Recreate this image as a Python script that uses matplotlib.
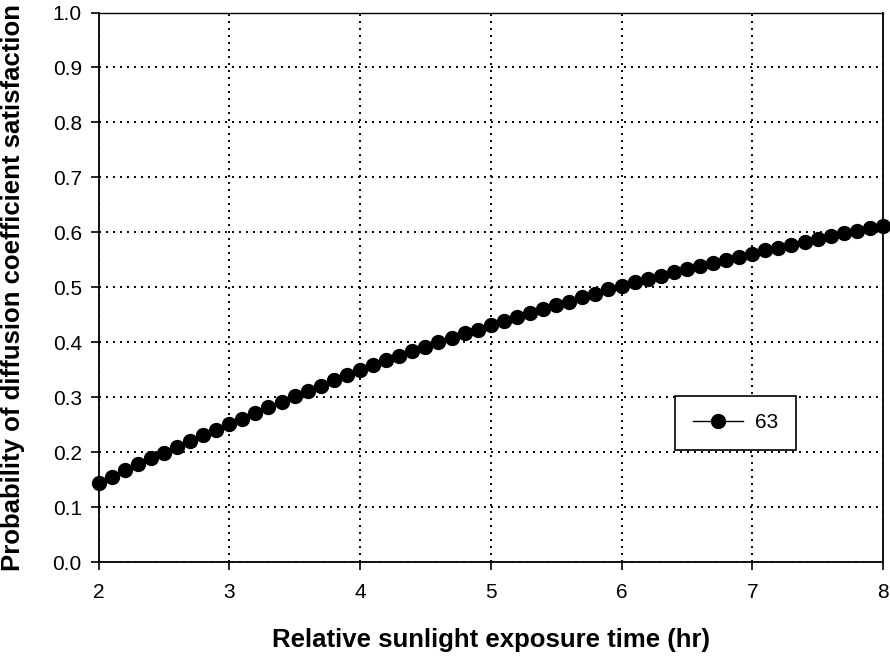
import matplotlib
matplotlib.use("Agg")
import matplotlib.pyplot as plt
import numpy as np

plt.rcParams['font.family'] = ['Liberation Sans', 'DejaVu Sans']

exposure_hr = [round(2.0 + 0.1 * i, 1) for i in range(61)]
probability = [
    0.144, 0.155, 0.167, 0.178, 0.189, 0.199, 0.210, 0.221, 0.231, 0.241,
    0.252, 0.261, 0.271, 0.282, 0.292, 0.302, 0.311, 0.321, 0.331, 0.340,
    0.349, 0.358, 0.367, 0.375, 0.384, 0.391, 0.400, 0.408, 0.416, 0.423,
    0.431, 0.438, 0.446, 0.453, 0.460, 0.467, 0.473, 0.482, 0.488, 0.496,
    0.502, 0.509, 0.515, 0.521, 0.527, 0.533, 0.539, 0.544, 0.550, 0.555,
    0.561, 0.567, 0.571, 0.576, 0.582, 0.587, 0.593, 0.598, 0.602, 0.607,
    0.611,
]
series_label = "63"
x_ticks = [2, 3, 4, 5, 6, 7, 8]
y_ticks = [round(0.1 * i, 1) for i in range(11)]

fig = plt.figure(figsize=(8.9, 6.57), dpi=100)
ax = fig.add_axes([98.5 / 890, 1 - 562 / 657, (883 - 98.5) / 890, (562 - 12.5) / 657])

ax.plot(exposure_hr, probability, color='black', linewidth=1.0, marker='o',
        markersize=10, markerfacecolor='black', markeredgecolor='black',
        label=series_label, clip_on=False, zorder=3)

ax.set_xlim(2, 8)
ax.set_ylim(0, 1.0)
ax.set_xticks(x_ticks)
ax.set_yticks(y_ticks)
ax.set_yticklabels([f"{v:.1f}" for v in y_ticks])
ax.tick_params(axis='both', direction='out', length=6, width=1.2, labelsize=15,
               colors='black', pad=6)
ax.tick_params(axis='x', pad=9)

ax.grid(True, color='black', linestyle=(0, (1, 2.6)), linewidth=1.4)
ax.set_axisbelow(True)
for side in ['left', 'bottom', 'right', 'top']:
    ax.spines[side].set_linewidth(1.3)
    ax.spines[side].set_color('black')
ax.spines['top'].set_linewidth(1.0)

ax.set_xlabel("Relative sunlight exposure time (hr)", fontsize=18.5, fontweight='bold')
ax.xaxis.set_label_coords(0.5, (562 - 628) / (562 - 12.5))
ax.set_ylabel("Probability of diffusion coefficient satisfaction", fontsize=18.5, fontweight='bold')
ax.yaxis.set_label_coords((13 - 98.5) / (883 - 98.5), 0.5)
ax.yaxis.label.set_va('center')

leg = ax.legend(loc='center', bbox_to_anchor=((735.5 - 98.5) / (883 - 98.5), (562 - 423) / (562 - 12.5)),
                frameon=True, fancybox=False, fontsize=15, handlelength=2.4,
                borderpad=0.85, handletextpad=0.55, borderaxespad=0)
leg.get_frame().set_edgecolor('black')
leg.get_frame().set_linewidth(1.2)
leg.get_frame().set_alpha(1)

fig.savefig("out.png", dpi=100)
